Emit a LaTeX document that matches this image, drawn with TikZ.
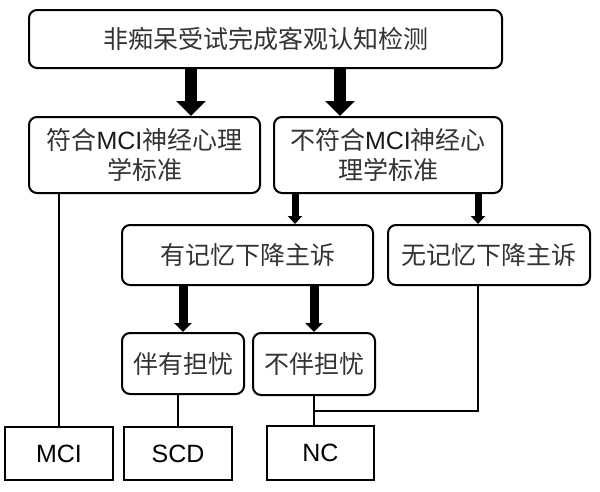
\documentclass[tikz,border=0pt]{standalone}
\usepackage{fontspec}
\setmainfont{Liberation Sans}
\newfontfamily\cjk{Noto Sans CJK SC}
\newcommand{\lat}[1]{{\rmfamily\color{black!90}#1}}
\usetikzlibrary{arrows.meta}
\tikzset{
  rbox/.style={draw, line width=2, rounded corners=8, inner sep=0, align=center,
    font=\cjk\fontsize{25}{30}\selectfont, text=black!80},
  sbox/.style={draw, line width=2, inner sep=0, minimum width=108, minimum height=53,
    font=\fontsize{25}{30}\selectfont},
  bigarrow/.style={line width=12, -{Triangle[width=29, length=15]}},
  midarrow/.style={line width=7, -{Triangle[width=14, length=8]}},
  lowarrow/.style={line width=9, -{Triangle[width=17, length=9]}},
  thin/.style={line width=2}
}
\begin{document}
\begin{tikzpicture}[x=1pt, y=-1pt]
\useasboundingbox (0,0) rectangle (600,491);
\node[rbox, minimum width=473, minimum height=58] (top) at (265.5,39) {非痴呆受试完成客观认知检测};
\node[rbox, minimum width=231, minimum height=76] (fh) at (144.5,155) {符合\lat{MCI}神经心理\\学标准};
\node[rbox, minimum width=228, minimum height=76] (bfh) at (388,155) {不符合\lat{MCI}神经心\\理学标准};
\node[rbox, minimum width=251, minimum height=60] (yj) at (247.5,255) {有记忆下降主诉};
\node[rbox, minimum width=202, minimum height=60] (wj) at (489,255) {无记忆下降主诉};
\node[rbox, minimum width=122, minimum height=61] (bd) at (183,363.5) {伴有担忧};
\node[rbox, minimum width=122, minimum height=62] (bbd) at (314,364) {不伴担忧};
\node[sbox] (mci) at (59,453.5) {MCI};
\node[sbox] (scd) at (178,453.5) {SCD};
\node[sbox, minimum width=107, minimum height=54] (nc) at (320.5,453) {NC};
\coordinate (j) at (314,411);
\coordinate (k) at (478,411);
\draw[bigarrow] (top.south -| 191,0) -- (fh.north -| 191,0);
\draw[bigarrow] (top.south -| 340,0) -- (bfh.north -| 340,0);
\draw[midarrow] (bfh.south -| 295,0) -- (yj.north -| 295,0);
\draw[midarrow] (bfh.south -| 478,0) -- (wj.north -| 478,0);
\draw[lowarrow] (yj.south -| bd.north) -- (bd.north);
\draw[lowarrow] (yj.south -| bbd.north) -- (bbd.north);
\draw[thin] (fh.south -| mci.north) -- (mci.north);
\draw[thin] (bd.south -| scd.north) -- (scd.north);
\draw[thin] (bbd.south) -- (bbd.south |- nc.north);
\draw[thin] (k |- wj.south) -- (k) -- (j);
\end{tikzpicture}
\end{document}
